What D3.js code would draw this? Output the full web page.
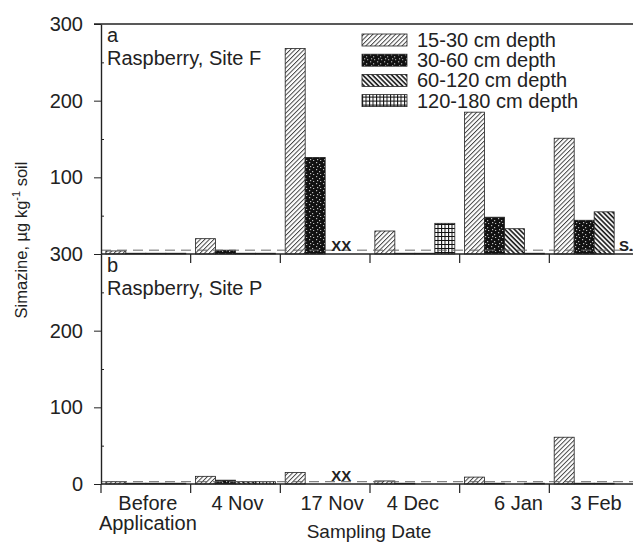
<!DOCTYPE html>
<html>
<head>
<meta charset="utf-8">
<title>Simazine</title>
<style>
    body { margin: 0; background: #fff; }
    text { font-family: "Liberation Sans", Arial, sans-serif; fill: #222; }
</style>
</head>
<body>
<script src="https://d3js.org/d3.v7.min.js"></script>
<script>
    var dates = ["Before Application", "4 Nov", "17 Nov", "4 Dec", "6 Jan", "3 Feb"];
    var depths = ["15-30 cm depth", "30-60 cm depth", "60-120 cm depth", "120-180 cm depth"];

    // panel a, site F (null = not sampled)
    var siteF_15 = [4, 20, 268, 30, 185, 151];
    var siteF_30 = [1, 5, 126, 1, 48, 44];
    var siteF_60 = [1, 1, null, 1, 33, 55];
    var siteF_120 = [1, 1, null, 40, 1, null];

    // panel b, site P
    var siteP_15 = [3, 10, 15, 4, 9, 61];
    var siteP_30 = [1, 5, null, 1, 1, 1];
    var siteP_60 = [1, 3, null, 0, 0, 1];
    var siteP_120 = [1, 3, null, 0, 1, 0];

    var detectF = 5;
    var detectP = 3;

    var ticksF = [100, 200, 300];
    var ticksP = [0, 100, 200, 300];
    var minorTicks = [50, 150, 250];

    var notesF = [["17 Nov", "XX"], ["3 Feb", "S."]];
    var notesP = [["17 Nov", "XX"]];

    var W = 633, H = 542;
    var svg = d3.select("body").append("svg")
        .attr("width", W)
        .attr("height", H);

    // fill patterns
    var defs = svg.append("defs");
    var p1 = defs.append("pattern").attr("id", "d0")
        .attr("patternUnits", "userSpaceOnUse")
        .attr("width", 3.2).attr("height", 10)
        .attr("patternTransform", "rotate(45)");
    p1.append("rect").attr("width", 3.2).attr("height", 10).attr("fill", "#fff");
    p1.append("line").attr("x1", 0.5).attr("y1", 0).attr("x2", 0.5).attr("y2", 10)
        .attr("stroke", "#333").attr("stroke-width", 0.9);

    var p2 = defs.append("pattern").attr("id", "d1")
        .attr("patternUnits", "userSpaceOnUse")
        .attr("width", 7).attr("height", 7);
    p2.append("rect").attr("width", 7).attr("height", 7).attr("fill", "#111");
    [[1, 1], [4, 3], [2, 5], [5, 6]].forEach(function(p) {
        p2.append("rect").attr("x", p[0]).attr("y", p[1])
            .attr("width", 1.2).attr("height", 1.2).attr("fill", "#bbb");
    });

    var p3 = defs.append("pattern").attr("id", "d2")
        .attr("patternUnits", "userSpaceOnUse")
        .attr("width", 3.4).attr("height", 10)
        .attr("patternTransform", "rotate(-45)");
    p3.append("rect").attr("width", 3.4).attr("height", 10).attr("fill", "#fff");
    p3.append("line").attr("x1", 1).attr("y1", 0).attr("x2", 1).attr("y2", 10)
        .attr("stroke", "#111").attr("stroke-width", 1.6);

    var p4 = defs.append("pattern").attr("id", "d3")
        .attr("patternUnits", "userSpaceOnUse")
        .attr("width", 3.5).attr("height", 4);
    p4.append("rect").attr("width", 3.5).attr("height", 4).attr("fill", "#fff");
    p4.append("path").attr("d", "M0,0.5H3.5M0.5,0V4")
        .attr("stroke", "#111").attr("stroke-width", 1.1);

    var x = d3.scaleBand().domain(dates).range([101, 639]);
    var xd = d3.scaleBand().domain(depths).range([0, x.bandwidth()]).paddingOuter(0.243);

    var panels = [
        { label: "a", site: "Raspberry, Site F", top: 24, bottom: 254,
          series: [siteF_15, siteF_30, siteF_60, siteF_120], detect: detectF,
          ticks: ticksF, notes: notesF, first: false },
        { label: "b", site: "Raspberry, Site P", top: 254, bottom: 484,
          series: [siteP_15, siteP_30, siteP_60, siteP_120], detect: detectP,
          ticks: ticksP, notes: notesP, first: true }
    ];

    panels.forEach(function(pn) {
        var y = d3.scaleLinear().domain([0, 300]).range([pn.bottom, pn.top]);
        var g = svg.append("g");

        // bars
        pn.series.forEach(function(vals, k) {
            g.append("g").selectAll("rect")
                .data(vals.map(function(v, i) { return { d: dates[i], v: v }; })
                    .filter(function(o) { return o.v !== null; }))
                .enter().append("rect")
                .attr("x", function(o) { return x(o.d) + xd(depths[k]); })
                .attr("width", xd.bandwidth())
                .attr("y", function(o) { return y(o.v); })
                .attr("height", function(o) { return y(0) - y(o.v); })
                .attr("fill", "url(#d" + k + ")")
                .attr("stroke", "#222")
                .attr("stroke-width", 0.8);
        });

        // detection limit
        g.append("line")
            .attr("x1", x.range()[0]).attr("x2", x.range()[1])
            .attr("y1", y(pn.detect)).attr("y2", y(pn.detect))
            .attr("stroke", "#666").attr("stroke-width", 1)
            .attr("stroke-dasharray", "10,6");

        // not sampled marks
        g.selectAll(".note").data(pn.notes).enter().append("text")
            .attr("class", "note")
            .attr("x", function(n) {
                if (n[1] == "XX") return x(n[0]) + xd(depths[2]) + xd.bandwidth() - 4;
                return x(n[0]) + xd(depths[3]) + xd.bandwidth() / 2 + 2;
            })
            .attr("y", y(0) - 3)
            .attr("text-anchor", "middle")
            .style("font-size", "15px")
            .style("font-weight", "bold")
            .text(function(n) { return n[1]; });

        // x axis line and separators
        g.append("line")
            .attr("x1", x.range()[0]).attr("x2", x.range()[1])
            .attr("y1", y(0)).attr("y2", y(0))
            .attr("stroke", "#222").attr("stroke-width", 1.3);
        g.selectAll(".sep")
            .data(dates.filter(function(d, i) { return pn.first || i > 0; }))
            .enter().append("line")
            .attr("class", "sep")
            .attr("x1", function(d) { return x(d); })
            .attr("x2", function(d) { return x(d); })
            .attr("y1", y(0)).attr("y2", y(0) + 9)
            .attr("stroke", "#222").attr("stroke-width", 1.2);

        // y axis
        var ax = g.append("g")
            .attr("transform", "translate(" + x.range()[0] + ",0)")
            .call(d3.axisLeft(y).tickValues(pn.ticks).tickSize(7).tickPadding(11).tickSizeOuter(0));
        ax.select(".domain").attr("stroke", "#222").attr("stroke-width", 1.4);
        ax.selectAll("line").attr("stroke", "#222");
        ax.selectAll("text").style("font-size", "20px").style("font-family", "'Liberation Sans', Arial, sans-serif").attr("fill", "#222");
        g.append("g")
            .attr("transform", "translate(" + x.range()[0] + ",0)")
            .call(d3.axisLeft(y).tickValues(minorTicks).tickSize(-3).tickFormat(""))
            .call(function(s) { s.select(".domain").remove(); s.selectAll("line").attr("stroke", "#222"); });

        // panel labels
        g.append("text").attr("x", 107).attr("y", pn.top + 18)
            .style("font-size", "20px").text(pn.label);
        g.append("text").attr("x", 107).attr("y", pn.top + 41)
            .style("font-size", "20px").text(pn.site);
    });

    // top frame
    svg.append("line")
        .attr("x1", 94).attr("x2", x.range()[1])
        .attr("y1", 24).attr("y2", 24)
        .attr("stroke", "#222").attr("stroke-width", 1.4);

    // legend
    var leg = svg.append("g").selectAll("g").data(depths).enter().append("g")
        .attr("transform", function(d, i) { return "translate(362," + (40 + i * 20.2) + ")"; });
    leg.append("rect")
        .attr("x", 0).attr("y", -6).attr("width", 45).attr("height", 12)
        .attr("fill", function(d, i) { return "url(#d" + i + ")"; })
        .attr("stroke", "#222").attr("stroke-width", 0.8);
    leg.append("text")
        .attr("x", 55).attr("y", 7)
        .style("font-size", "20px")
        .text(function(d) { return d; });

    // category labels (the scan sets a few of them a little off centre)
    var nudge = { "17 Nov": 5, "4 Dec": -4, "6 Jan": 12 };
    svg.append("g").selectAll("text").data(dates).enter().append("text")
        .attr("x", function(d) { return x(d) + x.bandwidth() / 2 + 2 + (nudge[d] || 0); })
        .attr("y", 510)
        .attr("text-anchor", "middle")
        .style("font-size", "20px")
        .each(function(d) {
            var parts = d.split(" ");
            var t = d3.select(this);
            if (d == "Before Application") {
                t.append("tspan").attr("x", t.attr("x")).text(parts[0]);
                t.append("tspan").attr("x", t.attr("x")).attr("dy", 20).text(parts[1]);
            } else {
                t.text(d);
            }
        });

    svg.append("text")
        .attr("x", 369).attr("y", 538)
        .attr("text-anchor", "middle")
        .style("font-size", "19px")
        .text("Sampling Date");

    var yt = svg.append("text")
        .attr("transform", "translate(27,240) rotate(-90)")
        .attr("text-anchor", "middle")
        .style("font-size", "16.5px");
    yt.append("tspan").text("Simazine, \u00b5g kg");
    yt.append("tspan").attr("dy", -7).style("font-size", "11px").text("-1");
    yt.append("tspan").attr("dy", 7).text(" soil");
</script>
</body>
</html>
